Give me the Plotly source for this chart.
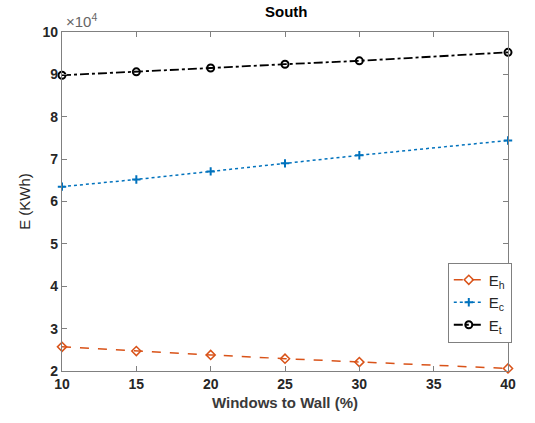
import plotly.graph_objects as go

x_wwr = [10, 15, 20, 25, 30, 40]
e_h = [25700, 24700, 23800, 22900, 22100, 20600]
e_c = [63500, 65200, 67100, 69000, 70900, 74400]
e_t = [89800, 90600, 91500, 92400, 93200, 95200]
y_tick_vals = [20000, 30000, 40000, 50000, 60000, 70000, 80000, 90000, 100000]
y_tick_text = ["2", "3", "4", "5", "6", "7", "8", "9", "10"]
x_tick_vals = [10, 15, 20, 25, 30, 35, 40]
x_tick_text = ["10", "15", "20", "25", "30", "35", "40"]

font_fam = "Liberation Sans, Arial, sans-serif"

fig = go.Figure()
fig.add_trace(go.Scatter(x=x_wwr, y=e_h, name="E<sub>h</sub>", mode="lines+markers", cliponaxis=False,
                         line=dict(color="#D95319", dash="dash", width=1.5),
                         marker=dict(symbol="diamond-open", size=7, color="#D95319", line=dict(width=1.5))))
fig.add_trace(go.Scatter(x=x_wwr, y=e_c, name="E<sub>c</sub>", mode="lines+markers", cliponaxis=False,
                         line=dict(color="#0072BD", dash="dot", width=1.5),
                         marker=dict(symbol="cross-thin", size=6, color="#0072BD", line=dict(width=2, color="#0072BD"))))
fig.add_trace(go.Scatter(x=x_wwr, y=e_t, name="E<sub>t</sub>", mode="lines+markers", cliponaxis=False,
                         line=dict(color="black", dash="dashdot", width=1.8),
                         marker=dict(symbol="circle-open", size=7, color="black", line=dict(width=2))))

axis_common = dict(showline=True, linecolor="#808080", linewidth=1.2, mirror="ticks",
                   ticks="inside", ticklen=5, tickcolor="#808080", showgrid=False, zeroline=False,
                   tickfont=dict(family=font_fam, size=14, color="#262626"))

fig.update_layout(
    width=535, height=423,
    margin=dict(l=62, r=27, t=32, b=52),
    paper_bgcolor="white", plot_bgcolor="white",
    title=dict(text="<b>South</b>", x=0.535, xanchor="center", y=0.985, yanchor="top",
               font=dict(family=font_fam, size=15, color="black")),
    xaxis=dict(range=[10, 40], tickvals=x_tick_vals, ticktext=["<b>%s</b>" % t for t in x_tick_text],
               title=dict(text="<b>Windows to Wall (%)</b>", standoff=6,
                          font=dict(family=font_fam, size=15, color="#3a3a3a")),
               **axis_common),
    yaxis=dict(range=[20000, 100000], tickvals=y_tick_vals, ticktext=["<b>%s</b>" % t for t in y_tick_text],
               title=dict(text="E (KWh)", standoff=8,
                          font=dict(family=font_fam, size=15, color="#262626")),
               **axis_common),
    legend=dict(x=0.865, y=0.32, xanchor="left", yanchor="top",
                bordercolor="#808080", borderwidth=1, bgcolor="white",
                font=dict(family=font_fam, size=15, color="#262626"),
                tracegroupgap=0, itemwidth=30),
    annotations=[dict(text="×10<sup>4</sup>", xref="paper", yref="paper", x=0.005, y=1.0,
                      xanchor="left", yanchor="bottom", showarrow=False,
                      font=dict(family=font_fam, size=15, color="#666666"))],
)

fig.write_html("out.html")
